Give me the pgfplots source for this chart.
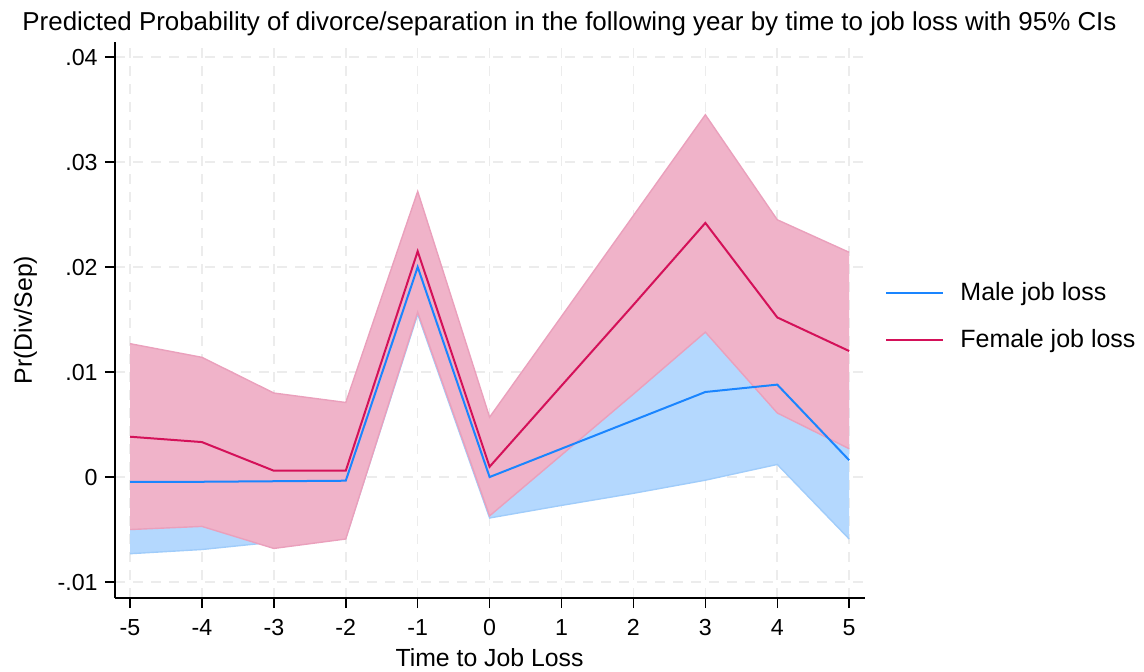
\documentclass[border=0pt]{standalone}
\usepackage{fontspec}
\setmainfont{Liberation Sans}
\usepackage{pgfplots}
\usepackage{pgfplotstable}
\pgfplotsset{compat=1.18}
\definecolor{mline}{RGB}{26,133,255}
\definecolor{fline}{RGB}{212,17,89}
\definecolor{mfill}{RGB}{180,216,254}
\definecolor{medge}{RGB}{160,204,250}
\definecolor{ffill}{RGB}{240,179,201}
\definecolor{fedge}{RGB}{234,160,188}
\definecolor{gridc}{RGB}{236,236,236}
\pgfplotstableread{
x   ml        mlo       mhi     fl       flo      fhi
-5  -0.00045  -0.0073   0.0064  0.00384  -0.0050  0.0127
-4  -0.00045  -0.0069   0.0060  0.00333  -0.0047  0.0114
-3  -0.0004   -0.0062   0.0054  0.0006   -0.0068  0.0080
-2  -0.00035  -0.0058   0.0051  0.0006   -0.0059  0.0071
-1  0.0200    0.0155    0.0243  0.0215   0.0157   0.0272
0   0.0000    -0.0039   0.0039  0.00098  -0.0037  0.0057
1   0.0027    -0.0027   0.0081  0.0087   0.0021   0.0153
2   0.0054    -0.00155  0.0124  0.0164   0.0079   0.0249
3   0.0081    -0.0003   0.0165  0.0242   0.0138   0.0345
4   0.0088    0.0012    0.0164  0.0152   0.0061   0.0245
5   0.0016    -0.0059   0.0091  0.0120   0.0027   0.0214
}\data
% CI polygons: upper bound left to right, then lower bound right to left
\pgfplotstableread{
x  y
-5 0.0064
-4 0.0060
-3 0.0054
-2 0.0051
-1 0.0243
0  0.0039
1  0.0081
2  0.0124
3  0.0165
4  0.0164
5  0.0091
5  -0.0059
4  0.0012
3  -0.0003
2  -0.00155
1  -0.0027
0  -0.0039
-1 0.0155
-2 -0.0058
-3 -0.0062
-4 -0.0069
-5 -0.0073
}\mpoly
\pgfplotstableread{
x  y
-5 0.0127
-4 0.0114
-3 0.0080
-2 0.0071
-1 0.0272
0  0.0057
1  0.0153
2  0.0249
3  0.0345
4  0.0245
5  0.0214
5  0.0027
4  0.0061
3  0.0138
2  0.0079
1  0.0021
0  -0.0037
-1 0.0157
-2 -0.0059
-3 -0.0068
-4 -0.0047
-5 -0.0050
}\fpoly
\begin{document}
\begin{tikzpicture}
\begin{axis}[
  at={(0pt,0pt)}, anchor=south west,
  scale only axis, width=375pt, height=278pt,
  xmin=-5.209, xmax=5.22, ymin=-0.01152, ymax=0.04143,
  axis x line*=bottom, axis y line*=left,
  axis line style={black, line width=0.75pt, -},
  xtick={-5,-4,-3,-2,-1,0,1,2,3,4,5},
  xticklabels={-5,-4,-3,-2,-1,0,1,2,3,4,5},
  ytick={-0.01,0,0.01,0.02,0.03,0.04},
  yticklabels={-.01,0,.01,.02,.03,.04},
  scaled y ticks=false,
  tick align=outside, major tick length=5pt,
  tick style={black, line width=0.75pt},
  xticklabel style={font=\fontsize{11.6}{13}\selectfont, inner sep=0pt, anchor=north, yshift=-5.5pt},
  yticklabel style={font=\fontsize{11.6}{13}\selectfont, inner sep=0pt, anchor=east, xshift=-3.5pt},
  grid=major,
  major grid style={draw=gridc, line width=0.8pt, dash pattern=on 5pt off 4pt},
  legend style={draw=none, fill=none, at={(1.0267,0.507)}, anchor=west,
    font=\fontsize{12.5}{14}\selectfont, inner sep=0pt, row sep=13pt, column sep=8pt,
    nodes={inner sep=0pt}},
  legend cell align=left,
  legend image code/.code={\draw[#1] (0pt,0pt) -- (28.5pt,0pt);},
]
\addplot[fill=mfill, draw=none, forget plot] table[x=x,y=y]{\mpoly};
\addplot[medge, line width=0.7pt, forget plot] table[x=x,y=mlo]{\data};
\addplot[fill=ffill, draw=none, forget plot] table[x=x,y=y]{\fpoly};
\addplot[fedge, line width=0.7pt, forget plot] table[x=x,y=fhi]{\data};
\addplot[fedge, line width=0.7pt, forget plot] table[x=x,y=flo]{\data};
\addplot[mline, line width=1pt] table[x=x,y=ml]{\data};
\addlegendentry{Male job loss}
\addplot[fline, line width=1pt] table[x=x,y=fl]{\data};
\addlegendentry{Female job loss}
\end{axis}
\node[anchor=base, font=\fontsize{12.95}{15}\selectfont] at (227.25pt,283.5pt) {Predicted Probability of divorce/separation in the following year by time to job loss with 95\% CIs};
\node[anchor=base, font=\fontsize{12.4}{14}\selectfont] at (187.25pt,-34.3pt) {Time to Job Loss};
\node[rotate=90, anchor=base, font=\fontsize{12.4}{14}\selectfont] at (-41.5pt,139pt) {Pr(Div/Sep)};
\pgfresetboundingbox
\path[use as bounding box] (-57.5pt,-36.5pt) rectangle (514.5pt,299pt);
\end{tikzpicture}
\end{document}
